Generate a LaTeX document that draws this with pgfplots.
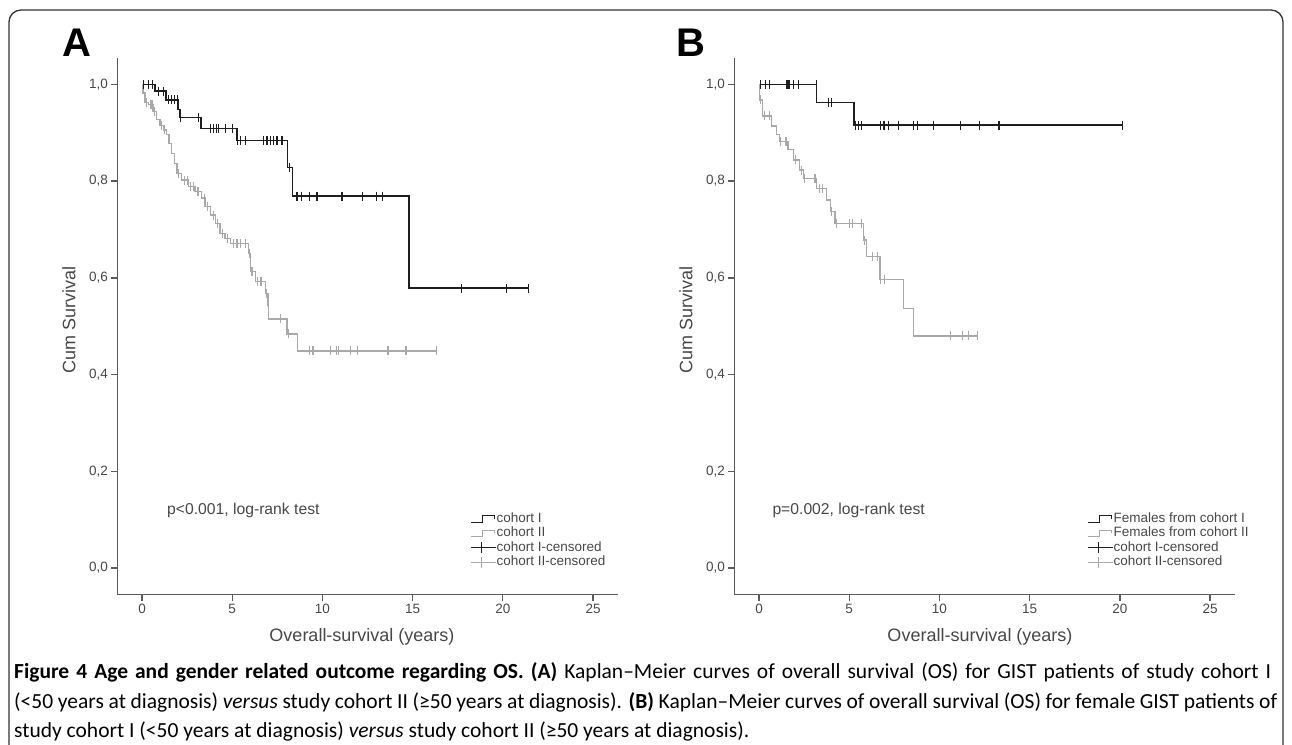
\documentclass[border=0pt]{standalone}
\usepackage{fontspec}
\setmainfont{Liberation Sans}
\newfontfamily\capfont{Carlito}
\usepackage{pgfplots}
\pgfplotsset{compat=1.18}

\definecolor{axgray}{HTML}{5A5A5A}
\definecolor{kmblack}{HTML}{1E1E1E}
\definecolor{kmgray}{HTML}{A9A9A9}
\definecolor{txtgray}{HTML}{474747}
\newcommand{\fs}[1]{\fontsize{#1pt}{#1pt}\selectfont}

\pgfplotsset{
  kmaxis/.style={
    scale only axis, width=501pt, height=536.4pt, anchor=south west,
    xmin=-1.37, xmax=26.4, ymin=-0.055, ymax=1.054,
    axis lines*=left, axis line style={draw=axgray, line width=1.3pt},
    xtick={0,5,10,15,20,25}, xticklabels={0,5,10,15,20,25},
    ytick={0,0.2,0.4,0.6,0.8,1.0}, yticklabels={{0,0},{0,2},{0,4},{0,6},{0,8},{1,0}},
    tick align=outside, major tick length=6pt,
    every tick/.style={draw=axgray, line width=1.3pt},
    tick label style={font=\fs{13.5}, text=txtgray},
    legend cell align=left,
    legend style={draw=none, fill=none, font=\fs{13.5}, text=txtgray, inner sep=0pt,
      row sep=1.5pt, at={(0.704,0.154)}, anchor=north west,
      nodes={inner sep=0pt, text height=10pt, text depth=3pt}},
  },
  kmblackline/.style={const plot, kmblack, line width=1.4pt, mark=none,
    legend image code/.code={\draw[kmblack, line width=1.3pt] (0pt,-3.5pt) -- (11.5pt,-3.5pt) -- (11.5pt,3pt) -- (23.5pt,3pt) -- (23.5pt,0pt);}},
  kmgrayline/.style={const plot, kmgray, line width=1.4pt, mark=none,
    legend image code/.code={\draw[kmgray, line width=1.3pt] (0pt,-3.5pt) -- (11.5pt,-3.5pt) -- (11.5pt,3pt) -- (23.5pt,3pt) -- (23.5pt,0pt);}},
  kmblackcens/.style={only marks, mark=|, mark size=4.5pt, mark options={draw=kmblack, line width=1.2pt},
    legend image code/.code={\draw[kmblack, line width=1.3pt] (0pt,0pt) -- (25pt,0pt); \draw[kmblack, line width=1.2pt] (11pt,-5.5pt) -- (11pt,5.5pt);}},
  kmgraycens/.style={only marks, mark=|, mark size=4.5pt, mark options={draw=kmgray, line width=1.2pt},
    legend image code/.code={\draw[kmgray, line width=1.3pt] (0pt,0pt) -- (25pt,0pt); \draw[kmgray, line width=1.2pt] (11pt,-5.5pt) -- (11pt,5.5pt);}},
}

\begin{document}
\begin{tikzpicture}
\useasboundingbox (0,0) rectangle (1292pt,744pt);

% ---- panel A
\begin{axis}[kmaxis, at={(117.3pt,149.3pt)}]
\addplot[kmblackline] coordinates {
 (0,1.0) (0.72,0.986) (1.33,0.968) (2.0,0.948) (2.1,0.931) (3.26,0.909)
 (5.26,0.884) (8.07,0.828) (8.35,0.769) (14.8,0.579) (21.4,0.579) };
\addlegendentry{cohort I}
\addplot[kmgrayline] coordinates {
 (0,1.0) (0.05,0.982) (0.17,0.962) (0.35,0.958) (0.6,0.944) (0.8,0.927) (1.0,0.915)
 (1.18,0.906) (1.37,0.896) (1.5,0.878) (1.65,0.857) (1.8,0.836) (1.93,0.816) (2.2,0.802)
 (2.57,0.789) (2.94,0.778) (3.31,0.765) (3.5,0.747) (3.78,0.730) (4.06,0.713) (4.33,0.692)
 (4.61,0.682) (4.89,0.671) (5.9,0.651) (6.0,0.613) (6.28,0.592) (6.83,0.568) (6.98,0.544)
 (7.02,0.515) (8.04,0.484) (8.63,0.449) (16.33,0.449) };
\addlegendentry{cohort II}
\addplot[kmblackcens] coordinates {
 (0.1,1.0) (0.35,1.0) (0.6,1.0) (0.9,0.986) (1.18,0.986)
 (1.45,0.968) (1.65,0.968) (1.8,0.968) (1.95,0.968) (2.15,0.931) (3.13,0.931)
 (3.78,0.909) (3.96,0.909) (4.11,0.909) (4.24,0.909) (4.61,0.909) (5.02,0.909)
 (5.3,0.884) (5.44,0.884) (5.72,0.884) (6.74,0.884) (6.93,0.884) (7.11,0.884) (7.29,0.884) (7.48,0.884) (7.76,0.884)
 (8.17,0.828)
 (8.59,0.769) (8.83,0.769) (9.28,0.769) (9.7,0.769) (11.09,0.769) (12.24,0.769) (12.98,0.769) (13.35,0.769)
 (17.72,0.579) (20.2,0.579) (21.4,0.579) };
\addlegendentry{cohort I-censored}
\addplot[kmgraycens] coordinates {
 (0.25,0.962) (0.45,0.958) (0.55,0.958) (0.7,0.944) (1.1,0.915) (1.25,0.906)
 (2.0,0.816) (2.35,0.802) (2.5,0.802) (2.7,0.789) (2.85,0.789) (3.1,0.778) (3.45,0.765)
 (3.65,0.747) (3.95,0.730) (4.2,0.713) (4.45,0.692) (4.75,0.682)
 (5.07,0.671) (5.26,0.671) (5.44,0.671) (5.72,0.671) (5.95,0.651) (6.1,0.613)
 (6.4,0.592) (6.6,0.592) (6.9,0.568) (7.0,0.544) (7.67,0.515) (8.1,0.484)
 (9.28,0.449) (9.48,0.449) (10.44,0.449) (10.8,0.449) (10.9,0.449) (11.56,0.449)
 (11.96,0.449) (13.63,0.449) (14.63,0.449) (16.33,0.449) };
\addlegendentry{cohort II-censored}
\end{axis}

% ---- panel B
\begin{axis}[kmaxis, at={(734.3pt,149.3pt)}]
\addplot[kmblackline] coordinates {
 (0,1.0) (3.2,0.963) (5.26,0.916) (20.15,0.916) };
\addlegendentry{Females from cohort I}
\addplot[kmgrayline] coordinates {
 (0,1.0) (0.04,0.968) (0.19,0.935) (0.7,0.914) (0.96,0.897) (1.15,0.882) (1.6,0.865)
 (1.9,0.844) (2.25,0.823) (2.45,0.806) (3.2,0.785) (3.75,0.761) (3.95,0.737) (4.2,0.713)
 (5.8,0.678) (5.97,0.644) (6.7,0.597) (8.0,0.537) (8.56,0.480) (12.1,0.480) };
\addlegendentry{Females from cohort II}
\addplot[kmblackcens] coordinates {
 (0.08,1.0) (0.37,1.0) (0.56,1.0) (1.52,1.0) (1.61,1.0) (1.7,1.0) (1.89,1.0) (2.17,1.0) (3.19,1.0)
 (3.83,0.963) (4.02,0.963)
 (5.36,0.916) (5.5,0.916) (5.69,0.916) (6.74,0.916) (6.93,0.916) (7.17,0.916) (7.72,0.916)
 (8.55,0.916) (8.8,0.916) (9.67,0.916) (11.15,0.916) (12.2,0.916) (13.3,0.916) (20.15,0.916) };
\addlegendentry{cohort I-censored}
\addplot[kmgraycens] coordinates {
 (0.08,0.968) (0.3,0.935) (0.6,0.935) (1.2,0.882) (1.5,0.882) (2.0,0.844) (2.35,0.823)
 (2.5,0.806) (3.1,0.806) (3.35,0.785) (3.5,0.785) (4.0,0.737) (4.3,0.713) (5.0,0.713)
 (5.19,0.713) (5.69,0.713) (5.85,0.678) (6.3,0.644) (6.55,0.644) (6.75,0.597) (6.96,0.597)
 (10.6,0.48) (11.3,0.48) (11.6,0.48) (12.1,0.48) };
\addlegendentry{cohort II-censored}
\end{axis}

% ---- text and frame, in pixel coordinates from the top left
\begin{scope}[x=1pt, y=-1pt, yshift=744pt]
\draw[line width=1.3pt, draw=black!80, rounded corners=12pt] (9,750) -- (9,10) -- (1283,10) -- (1283,750);
\node[font=\bfseries\fs{40}, inner sep=0pt] at (77,43) {A};
\node[font=\bfseries\fs{40}, inner sep=0pt] at (691,43) {B};
\node[rotate=90, font=\fs{18}, text=txtgray] at (69,320) {Cum Survival};
\node[rotate=90, font=\fs{18}, text=txtgray] at (686,320) {Cum Survival};
\node[font=\fs{18}, text=txtgray] at (362,637) {Overall-survival (years)};
\node[font=\fs{18}, text=txtgray] at (980,637) {Overall-survival (years)};
\node[anchor=west, font=\fs{15.7}, text=txtgray, inner sep=0pt] at (167,510) {p<0.001, log-rank test};
\node[anchor=east, font=\fs{15.7}, text=txtgray, inner sep=0pt] at (925,510) {p=0.002, log-rank test};
\node[anchor=base west, font=\capfont\fs{21.5}, inner sep=0pt] at (14,678)
 {\makebox[1257pt][s]{\textbf{Figure 4 Age and gender related outcome regarding OS. (A)} Kaplan–Meier curves of overall survival (OS) for GIST patients of study cohort I}};
\node[anchor=base west, font=\capfont\fs{21.5}, inner sep=0pt] at (14,708)
 {\makebox[1263pt][s]{(<50 years at diagnosis) \textit{versus} study cohort II (≥50 years at diagnosis). \textbf{(B)} Kaplan–Meier curves of overall survival (OS) for female GIST patients of}};
\node[anchor=base west, font=\capfont\fs{21.5}, inner sep=0pt] at (14,737)
 {study cohort I (<50 years at diagnosis) \textit{versus} study cohort II (≥50 years at diagnosis).};
\end{scope}
\end{tikzpicture}
\end{document}
